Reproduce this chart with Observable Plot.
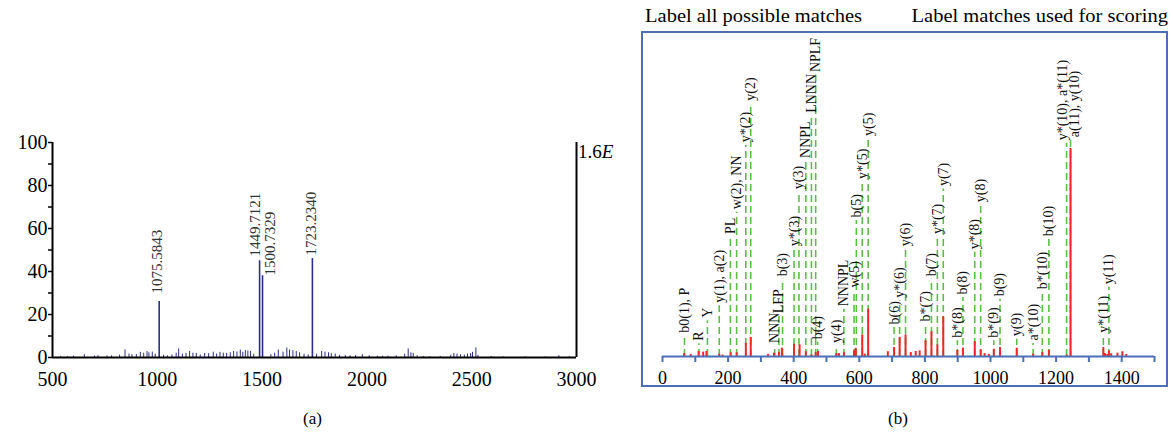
<!DOCTYPE html>
<html><head><meta charset="utf-8">
<script src="https://cdn.jsdelivr.net/npm/d3@7"></script>
<script src="https://cdn.jsdelivr.net/npm/@observablehq/plot@0.6"></script>
<style>
body{margin:0;background:#fff;}
#root{position:relative;width:1173px;height:434px;overflow:hidden;font-family:"Liberation Serif","Times New Roman",serif;color:#000;}
.abs{position:absolute;white-space:nowrap;line-height:1;}
#frameB{position:absolute;left:641px;top:31px;width:527px;height:356px;border:2px solid #4b6fb5;box-sizing:border-box;}
#panelA{position:absolute;left:0;top:120px;width:620px;height:280px;}
#panelB{position:absolute;left:630px;top:25px;width:543px;height:375px;}
svg{overflow:visible;}
svg text{font-family:"Liberation Serif","Times New Roman",serif;}
</style></head>
<body><div id="root">
<div id="frameB"></div>
<div id="panelA"></div>
<div id="panelB"></div>
<div class="abs" style="left:645px;top:7px;font-size:18px;transform:scaleX(1.14);transform-origin:left top;">Label all possible matches</div>
<div class="abs" style="right:5px;top:7px;font-size:18px;transform:scaleX(1.14);transform-origin:right top;">Label matches used for scoring</div>
<div class="abs" style="left:578px;top:142px;font-size:19px;">1.6<i>E</i></div>
<div class="abs" style="left:303px;top:410px;font-size:17px;">(a)</div>
<div class="abs" style="left:888px;top:410px;font-size:17px;">(b)</div>
</div>
<script>
// ---------- Panel (a): MS spectrum ----------
const aPeakPos = [1009, 1488, 1502, 1740];
const aPeakInt = [26, 45, 38, 46];
const aPeakLabel = ["1075.5843", "1449.7121", "1500.7329", "1723.2340"];
const aLabelLevel = [29.8, 47, 38.1, 47.4];
const aNoiseMz = [539,571,600,652,700,717,760,782,820,846,865,879,900,919,935,951,960,976,990,1030,1048,1070,1090,1102,1120,1137,1154,1170,1186,1205,1226,1245,1267,1283,1299,1315,1331,1348,1364,1380,1396,1408,1420,1432,1445,1460,1542,1560,1577,1600,1618,1631,1647,1663,1679,1700,1720,1760,1784,1800,1817,1830,1849,1870,1897,1920,1946,1978,2011,2050,2075,2100,2140,2180,2197,2210,2221,2240,2269,2300,2350,2400,2415,2430,2447,2465,2480,2495,2504,2520,2530,2593,2650,2755,2850,2916,2965];
const aNoiseInt = [0.5,0.4,0.6,1.3,0.7,0.9,0.8,0.8,1.1,3.5,1.6,1.3,1.4,2.4,2.0,2.8,2.2,2.5,1.5,1.0,0.8,1.2,2.0,4.0,1.5,1.9,2.8,2.0,1.9,1.2,1.9,1.8,2.5,1.6,2.4,2.0,1.9,2.2,2.8,2.6,3.5,2.4,3.2,3.0,2.8,1.5,1.3,2.0,3.5,2.5,4.4,3.5,3.2,2.8,2.2,1.5,1.2,1.5,2.8,2.5,2.2,1.8,1.6,1.0,0.9,0.8,0.9,1.3,0.8,0.6,0.6,0.6,0.8,1.5,4.0,2.2,1.9,0.8,0.5,0.4,0.5,1.0,1.9,1.6,1.3,1.1,1.6,1.8,2.4,4.4,1.0,0.5,0.3,0.3,0.3,0.8,0.5];
const aXTicks = [500, 1000, 1500, 2000, 2500, 3000];
const aYTicks = [0, 10, 20, 30, 40, 50, 60, 70, 80, 90, 100];

// ---------- Panel (b): MS/MS fragment spectrum ----------
const bPeakMz = [66,86,110,124,134,173,183,208,226,254,269,322,340,355,364,401,418,437,454,467,474,530,538,553,584,589,609,617,627,687,706,723,741,757,772,784,802,820,838,856,899,916,952,970,982,995,1010,1029,1080,1130,1158,1178,1232,1244,1344,1349,1356,1361,1368,1387,1402,1414];
const bPeakInt = [1.4,1.0,2.4,2.1,2.4,1.1,0.7,1.8,1.8,6.3,9.2,1.0,1.6,1.9,4.0,5.9,5.6,2.3,0.8,1.9,2.4,1.4,1.4,1.9,2.7,3.9,10.4,1.1,22.8,2.3,4.3,9.2,10.4,1.9,2.4,2.7,7.6,11.9,5.6,19.1,3.0,4.0,7.1,3.2,1.4,1.0,3.5,4.3,4.0,1.1,1.9,3.0,0.7,100,4.3,1.4,1.0,2.7,1.3,1.6,2.3,1.0];
const bLabelMz = [67,111,137,173,207,226,254,269,342,355,366,401,416,437,454,467,473,530,553,584,591,609,627,706,723,741,802,820,838,856,899,916,952,970,1010,1029,1080,1130,1158,1178,1232,1244,1344,1361];
const bLabelLevel = [10,6.1,17.2,24.4,57.4,69.4,101.6,121.5,5.1,19.3,37.1,51.6,79,94,115.7,135.3,6.8,5.1,22.7,31.7,65.4,83.9,104.6,14,26.8,51.6,15.4,37.1,57.4,80.5,7.6,28.4,50.1,72.7,7.6,27.5,8.3,6.3,30.9,56.4,102.5,104,10,33.3];
const bLabelText = ["b0(1), P","R","Y","y(1), a(2)","PL","w(2), NN","y*(2)","y(2)","NNN","LFP","b(3)","y*(3)","y(3)","NNPL","LNNN","NPLF","b(4)","y(4)","NNNPL","w(5)","b(5)","y*(5)","y(5)","b(6)","y*(6)","y(6)","b*(7)","b(7)","y*(7)","y(7)","b*(8)","b(8)","y*(8)","y(8)","b*(9)","b(9)","y(9)","a*(10)","b*(10)","b(10)","y*(10), a*(11)","a(11), y(10)","y*(11)","y(11)"];
const bXTicks = d3.range(0, 1501, 100);

const serif = "'Liberation Serif', 'Times New Roman', serif";
const navy = "#2e2e86";
const red = "#f0262a";
const green = "#5cbf45";
const blue = "#4b6fb5";

const aNoise = aNoiseMz.map((mz, i) => ({mz, int: aNoiseInt[i]}));
const aPeaks = aPeakPos.map((mz, i) => ({mz, int: aPeakInt[i], level: aLabelLevel[i], label: aPeakLabel[i]}));
const lblA = (data, dx) => Plot.text(data, {x: "mz", y: "level", text: "label", rotate: -90, textAnchor: "start", dx, fontSize: 15, fill: "#333", fontFamily: serif});

const plotA = Plot.plot({
  width: 620, height: 280,
  marginLeft: 52, marginRight: 44, marginTop: 22, marginBottom: 43,
  x: {domain: [500, 3000]},
  y: {domain: [0, 100]},
  style: {fontFamily: serif, fontSize: "20px", color: "#000", overflow: "visible", background: "transparent"},
  marks: [
    Plot.ruleX(aNoise, {x: "mz", y1: 0, y2: "int", stroke: navy, strokeWidth: 1}),
    Plot.ruleX(aPeaks, {x: "mz", y1: 0, y2: "int", stroke: navy, strokeWidth: 1.6}),
    lblA(aPeaks.filter((d, i) => i === 0 || i === 3), -1.5),
    lblA(aPeaks.filter((d, i) => i === 1), -4),
    lblA(aPeaks.filter((d, i) => i === 2), 7.5),
    Plot.ruleY([0], {x1: 500, x2: 3000, stroke: "#000", strokeWidth: 2}),
    Plot.ruleX([500], {y1: 0, y2: 100, stroke: "#000", strokeWidth: 2}),
    Plot.ruleX([3000], {y1: 0, y2: 100, stroke: "#000", strokeWidth: 2}),
    Plot.axisY({ticks: aYTicks, tickSize: 4, tickPadding: 1, strokeWidth: 1.5, tickFormat: d => d % 20 === 0 ? String(d) : "", label: null, fontSize: 20, fontFamily: serif}),
    Plot.axisX({ticks: aXTicks, tickSize: 0, tickPadding: 14, tickFormat: d => String(d), label: null, fontSize: 20, fontFamily: serif})
  ]
});
document.getElementById("panelA").appendChild(plotA);

const bPeaks = bPeakMz.map((mz, i) => ({mz, int: bPeakInt[i]}));
const bLabels = bLabelMz.map((mz, i) => ({mz, level: bLabelLevel[i], text: bLabelText[i]}));
const special1 = "y*(10), a*(11)", special2 = "a(11), y(10)";
const lblB = (data, dx) => Plot.text(data, {x: "mz", y: "level", text: "text", rotate: -90, textAnchor: "start", dy: -3, dx, fontSize: 14, fill: "#111", fontFamily: serif});

const plotB = Plot.plot({
  width: 543, height: 375,
  marginLeft: 32, marginRight: 19, marginTop: 123, marginBottom: 44,
  x: {domain: [0, 1500]},
  y: {domain: [0, 100], axis: null},
  style: {fontFamily: serif, fontSize: "18px", color: "#000", overflow: "visible", background: "transparent"},
  marks: [
    Plot.ruleX(bLabels, {x: "mz", y1: 0, y2: "level", stroke: green, strokeWidth: 1.6, strokeDasharray: "7,4"}),
    Plot.ruleX(bPeaks, {x: "mz", y1: 0, y2: "int", stroke: red, strokeWidth: 2}),
    lblB(bLabels.filter(d => d.text !== special1 && d.text !== special2), 0),
    lblB(bLabels.filter(d => d.text === special1), -4),
    lblB(bLabels.filter(d => d.text === special2), 3.5),
    Plot.ruleY([0], {x1: 0, x2: 1500, stroke: blue, strokeWidth: 2}),
    Plot.axisX({ticks: bXTicks, tickSize: 6, tickPadding: 9, stroke: blue, strokeWidth: 2, fill: "#000", tickFormat: d => d % 200 === 0 ? String(d) : "", label: null, fontSize: 18, fontFamily: serif})
  ]
});
document.getElementById("panelB").appendChild(plotB);
</script>
</body></html>
